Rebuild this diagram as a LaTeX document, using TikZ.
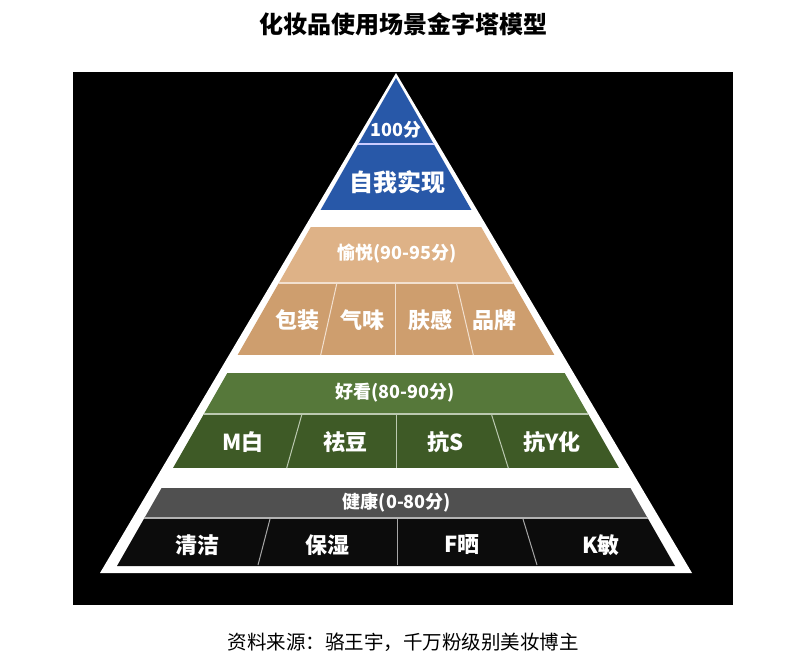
\documentclass[tikz,border=0pt]{standalone}
\usepackage{fontspec}
\newfontfamily\cjk{Noto Sans CJK SC}
\usepackage{xcolor}
\definecolor{blueband}{RGB}{40,88,168}
\definecolor{tanhead}{RGB}{222,178,135}
\definecolor{tanrow}{RGB}{206,158,110}
\definecolor{greenhead}{RGB}{86,120,58}
\definecolor{greenrow}{RGB}{62,90,38}
\definecolor{grayhead}{RGB}{80,80,80}
\definecolor{grayrow}{RGB}{12,12,12}

\begin{document}
\begin{tikzpicture}[x=1pt,y=-1pt,
    head/.style={text=white,inner sep=0pt,font=\cjk\bfseries\fontsize{18}{18}\selectfont},
    lbl/.style={text=white,inner sep=0pt,font=\cjk\bfseries\fontsize{22}{22}\selectfont},
    rule/.style={line width=1.4pt},
    cut/.style={line width=1pt}]
    \useasboundingbox (0,0) rectangle (792,663);
    \fill[white] (0,0) rectangle (792,663);
    \node[font=\cjk\bfseries\fontsize{24}{24}\selectfont](title) at (403,24){化妆品使用场景金字塔模型};
    \fill[black] (73,72) rectangle (733,605);
    \fill[white] (396,73) -- (100,573) -- (692,573) -- cycle;
    \begin{scope}
      \clip (396,78) -- (117,566) -- (675,566) -- cycle;
      % bands
      \fill[blueband] (0,70) rectangle (792,210);
      \fill[tanhead] (0,227) rectangle (792,283);
      \fill[tanrow] (0,283) rectangle (792,355);
      \fill[greenhead] (0,373) rectangle (792,414);
      \fill[greenrow] (0,414) rectangle (792,468);
      \fill[grayhead] (0,488) rectangle (792,518);
      \fill[grayrow] (0,518) rectangle (792,570);
      % header rules
      \draw[rule,blue!20] (0,144) -- (792,144);
      \draw[rule,tanhead!40] (0,283) -- (792,283);
      \draw[rule,greenhead!40] (0,414) -- (792,414);
      \draw[rule,gray!60] (0,518) -- (792,518);
    \end{scope}
    % dividers
    \draw[cut,tanhead!40] (336.7,284) -- (320.7,355);
    \draw[cut,tanhead!40] (395.7,284) -- (395.7,355);
    \draw[cut,tanhead!40] (456.7,284) -- (473.3,355);
    \draw[cut,greenhead!40] (301.7,415) -- (286.7,468);
    \draw[cut,greenhead!40] (396.7,415) -- (396.7,468);
    \draw[cut,greenhead!40] (491.7,415) -- (508.3,468);
    \draw[cut,gray!70] (270,519) -- (258,565);
    \draw[cut,gray!70] (397,519) -- (397,565);
    \draw[cut,gray!70] (523,519) -- (537,565);
    % labels
    \node[head](score)at(396,130){100分};
    \node[lbl,font=\cjk\bfseries\fontsize{24}{24}\selectfont](self)at(397,182){自我实现};
    \node[head](joy)at(397,254){愉悦(90-95分)};
    \node[lbl](pack)at(297,320){包装};
    \node[lbl](scent)at(362,320){气味};
    \node[lbl](feel)at(430,320){肤感};
    \node[lbl](brand)at(494,320){品牌};
    \node[head](look)at(395,393){好看(80-90分)};
    \node[lbl](white)at(243,442){M白};
    \node[lbl](acne)at(345,442){祛豆};
    \node[lbl](antis)at(446,442){抗S};
    \node[lbl](antiy)at(552,442){抗Y化};
    \node[head](health)at(397,503){健康(0-80分)};
    \node[lbl](clean)at(197,545){清洁};
    \node[lbl](moist)at(327,545){保湿};
    \node[lbl](sun)at(462,545){F晒};
    \node[lbl](sens)at(601,545){K敏};
    \node[font=\cjk\fontsize{19.5}{19.5}\selectfont](source)at(403,642){资料来源：骆王宇，千万粉级别美妆博主};
\end{tikzpicture}
\end{document}
